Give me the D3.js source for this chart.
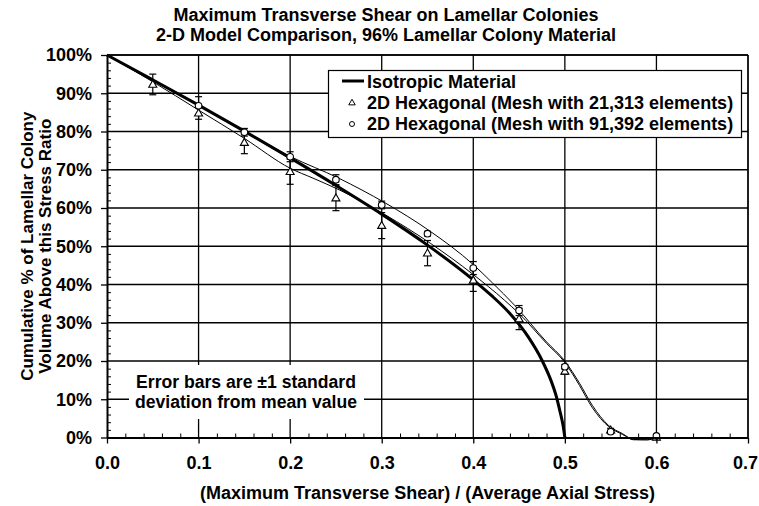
<!DOCTYPE html>
<html>
<head>
<meta charset="utf-8">
<script src="https://cdn.jsdelivr.net/npm/d3@7/dist/d3.min.js"></script>
<style>
  html, body { margin: 0; padding: 0; background: #fff; }
  svg { display: block; }
  text { font-family: "Liberation Sans", Arial, sans-serif; font-weight: bold; fill: #000; }
</style>
</head>
<body>
<svg id="chart" width="759" height="506"></svg>
<script>
// Isotropic material: cumulative % of colony volume above a given stress ratio
const isoX = [0, 0.05, 0.1, 0.15, 0.2, 0.25, 0.3, 0.35, 0.4, 0.42, 0.44, 0.46, 0.475, 0.485, 0.49, 0.495, 0.498, 0.5];
const isoY = [100, 93.5, 86.9, 80.1, 73.1, 65.9, 58.4, 50.3, 41.2, 37.1, 32.4, 26.3, 20.2, 14.8, 11.3, 6.5, 3.2, 0];

// Single-realisation curves for the two hexagonal meshes
const mesh21LineX = [0, 0.05, 0.1, 0.15, 0.2, 0.225, 0.254, 0.304, 0.353, 0.4, 0.434, 0.45, 0.48, 0.5, 0.516, 0.53, 0.548, 0.563, 0.575, 0.59, 0.6];
const mesh21LineY = [100, 93.0, 85.6, 78.2, 70.4, 67.8, 64.7, 58.2, 50.8, 42.6, 35.9, 32.4, 24.6, 19.6, 13.6, 7.8, 2.8, 0.8, -0.6, -0.6, 0];
const mesh91LineX = [0, 0.05, 0.1, 0.15, 0.2, 0.253, 0.304, 0.353, 0.4, 0.421, 0.445, 0.48, 0.5, 0.516, 0.53, 0.548, 0.563, 0.575, 0.59, 0.6];
const mesh91LineY = [100, 93.3, 86.8, 80.2, 73.5, 67.8, 61.3, 53.9, 45.2, 40.4, 34.6, 25.0, 20.0, 14.2, 8.4, 3.1, 1.0, -0.5, -0.6, 0];

// Mean values and standard deviations (error bars)
const mesh21X = [0.05, 0.1, 0.15, 0.2, 0.25, 0.3, 0.35, 0.4, 0.45, 0.5, 0.55, 0.6];
const mesh21Mean = [92.3, 84.8, 77.1, 69.5, 62.6, 55.4, 48.2, 41.1, 31.0, 17.3, 1.9, 0];
const mesh21Sd = [2.7, 1.6, 2.9, 3.3, 3.3, 3.4, 3.3, 2.9, 2.8, 0.8, 0.5, 0];
const mesh91X = [0.1, 0.15, 0.2, 0.25, 0.3, 0.35, 0.4, 0.45, 0.5, 0.55, 0.6];
const mesh91Mean = [86.7, 79.8, 73.4, 67.4, 60.8, 53.3, 44.3, 33.2, 18.5, 1.5, 0.4];
const mesh91Sd = [2.4, 1.0, 1.3, 1.3, 1.0, 0.6, 1.7, 1.3, 0.6, 0.3, 0];

// Axis ticks and text
const xTicks = [0, 0.1, 0.2, 0.3, 0.4, 0.5, 0.6, 0.7];
const yTicks = [0, 10, 20, 30, 40, 50, 60, 70, 80, 90, 100];
const titleLines = ["Maximum Transverse Shear on Lamellar Colonies", "2-D Model Comparison, 96% Lamellar Colony Material"];
const xTitle = "(Maximum Transverse Shear) / (Average Axial Stress)";
const yTitleLines = ["Cumulative % of Lamellar Colony", "Volume Above this Stress Ratio"];
const legendLabels = ["Isotropic Material", "2D Hexagonal (Mesh with 21,313 elements)", "2D Hexagonal (Mesh with 91,392 elements)"];
const noteLines = ["Error bars are \u00b11 standard", "deviation from mean value"];

const FS = 18;
const svg = d3.select("#chart");
svg.append("rect").attr("width", 759).attr("height", 506).attr("fill", "#fff");

const pLeft = 107, pRight = 748, pTop = 55, pBottom = 437.5;
const x = d3.scaleLinear().domain([0, 0.7]).range([pLeft, pRight]);
const y = d3.scaleLinear().domain([0, 100]).range([pBottom, pTop]);

// Title
svg.append("g").selectAll("text").data(titleLines).join("text")
  .attr("x", 386).attr("y", (d, i) => 21 + i * 20)
  .attr("text-anchor", "middle").attr("font-size", FS).text(d => d);

// Gridlines
const grid = svg.append("g").attr("stroke", "#000").attr("stroke-width", 1.3);
grid.selectAll("line.v").data(xTicks.slice(1)).join("line")
  .attr("x1", d => x(d)).attr("x2", d => x(d)).attr("y1", pTop).attr("y2", pBottom);
grid.selectAll("line.h").data(yTicks.slice(1)).join("line")
  .attr("x1", pLeft).attr("x2", pRight).attr("y1", d => y(d)).attr("y2", d => y(d));

// Note box (sits over the gridlines)
svg.append("rect").attr("x", 129).attr("y", 365).attr("width", 235).attr("height", 54).attr("fill", "#fff");
svg.append("g").selectAll("text").data(noteLines).join("text")
  .attr("x", 246).attr("y", (d, i) => 388 + i * 20)
  .attr("text-anchor", "middle").attr("font-size", 17.6).text(d => d);

// Data curves
const zip = (a, b) => a.map((v, i) => [v, b[i]]);
const smoothLine = d3.line().x(d => x(d[0])).y(d => y(d[1])).curve(d3.curveMonotoneX);
svg.append("path").datum(zip(mesh21LineX, mesh21LineY))
  .attr("d", smoothLine).attr("fill", "none").attr("stroke", "#000").attr("stroke-width", 1);
svg.append("path").datum(zip(mesh91LineX, mesh91LineY))
  .attr("d", smoothLine).attr("fill", "none").attr("stroke", "#000").attr("stroke-width", 1);
svg.append("path").datum(zip(isoX, isoY))
  .attr("d", smoothLine).attr("fill", "none").attr("stroke", "#000").attr("stroke-width", 3);

// Error bars
function errorBars(xs, means, sds) {
  const g = svg.append("g").attr("stroke", "#000").attr("stroke-width", 1.2);
  const data = xs.map((v, i) => ({ x: v, m: means[i], s: sds[i] })).filter(d => d.s > 0);
  g.selectAll("line.bar").data(data).join("line")
    .attr("x1", d => x(d.x)).attr("x2", d => x(d.x))
    .attr("y1", d => y(d.m + d.s)).attr("y2", d => y(d.m - d.s));
  g.selectAll("line.capT").data(data).join("line")
    .attr("x1", d => x(d.x) - 3.5).attr("x2", d => x(d.x) + 3.5)
    .attr("y1", d => y(d.m + d.s)).attr("y2", d => y(d.m + d.s));
  g.selectAll("line.capB").data(data).join("line")
    .attr("x1", d => x(d.x) - 3.5).attr("x2", d => x(d.x) + 3.5)
    .attr("y1", d => y(d.m - d.s)).attr("y2", d => y(d.m - d.s));
}
errorBars(mesh21X, mesh21Mean, mesh21Sd);
errorBars(mesh91X, mesh91Mean, mesh91Sd);

// Markers
const tri = d3.symbol().type(d3.symbolTriangle).size(28);
svg.append("g").selectAll("path").data(zip(mesh21X, mesh21Mean)).join("path")
  .attr("d", tri).attr("transform", d => `translate(${x(d[0])},${y(d[1]) + 0.5})`)
  .attr("fill", "#fff").attr("stroke", "#000").attr("stroke-width", 1.1);
svg.append("g").selectAll("circle").data(zip(mesh91X, mesh91Mean)).join("circle")
  .attr("cx", d => x(d[0])).attr("cy", d => y(d[1])).attr("r", 3.3)
  .attr("fill", "#fff").attr("stroke", "#000").attr("stroke-width", 1.1);

// Plot frame
svg.append("line").attr("x1", pLeft).attr("x2", pRight).attr("y1", pTop).attr("y2", pTop).attr("stroke", "#000").attr("stroke-width", 1.3);
svg.append("line").attr("x1", pRight).attr("x2", pRight).attr("y1", pTop).attr("y2", pBottom).attr("stroke", "#000").attr("stroke-width", 1.3);

// Axes: major ticks outside with labels, minor ticks inside
const xAxis = svg.append("g").attr("transform", `translate(0,${pBottom})`)
  .call(d3.axisBottom(x).tickValues(xTicks).tickFormat(d3.format(".1f")).tickSize(6).tickSizeOuter(0).tickPadding(13));
// keep the last label inside the canvas
xAxis.selectAll(".tick text").filter(d => d === 0.7).attr("dx", -3);
const xMinor = d3.range(0, 0.7001, 0.02).filter(v => Math.abs(v * 10 - Math.round(v * 10)) > 1e-6);
svg.append("g").attr("transform", `translate(0,${pBottom})`)
  .call(d3.axisBottom(x).tickValues(xMinor).tickFormat("").tickSize(-4).tickSizeOuter(0))
  .call(g => g.select(".domain").remove());
const yAxis = svg.append("g").attr("transform", `translate(${pLeft},0)`)
  .call(d3.axisLeft(y).tickValues(yTicks).tickFormat(d => d + "%").tickSize(6).tickSizeOuter(0).tickPadding(9));
const yMinor = d3.range(0, 100.001, 2).filter(v => v % 10 !== 0);
svg.append("g").attr("transform", `translate(${pLeft},0)`)
  .call(d3.axisLeft(y).tickValues(yMinor).tickFormat("").tickSize(-4).tickSizeOuter(0))
  .call(g => g.select(".domain").remove());
[xAxis, yAxis].forEach(g => {
  g.select(".domain").attr("stroke", "#000").attr("stroke-width", 2);
  g.selectAll(".tick line").attr("stroke-width", 1.3);
  g.selectAll("text").attr("font-size", FS).attr("font-family", null).attr("fill", "#000");
});
svg.selectAll(".tick line").attr("stroke", "#000");

// Axis titles
svg.append("text").attr("x", (pLeft + pRight) / 2).attr("y", 499)
  .attr("text-anchor", "middle").attr("font-size", FS).text(xTitle);
svg.append("g").selectAll("text").data(yTitleLines).join("text")
  .attr("transform", (d, i) => `translate(${33 + i * 18},${(pTop + pBottom) / 2}) rotate(-90)`)
  .attr("text-anchor", "middle").attr("font-size", 17).text(d => d);

// Legend
const lg = svg.append("g");
lg.append("rect").attr("x", 328.5).attr("y", 70.5).attr("width", 413).attr("height", 67)
  .attr("fill", "#fff").attr("stroke", "#000").attr("stroke-width", 1.2);
lg.append("line").attr("x1", 342).attr("x2", 364).attr("y1", 81).attr("y2", 81)
  .attr("stroke", "#000").attr("stroke-width", 3);
lg.append("path").attr("d", d3.symbol().type(d3.symbolTriangle).size(18))
  .attr("transform", "translate(352,103)").attr("fill", "#fff").attr("stroke", "#000").attr("stroke-width", 1);
lg.append("circle").attr("cx", 352).attr("cy", 124).attr("r", 2.5)
  .attr("fill", "#fff").attr("stroke", "#000").attr("stroke-width", 1);
lg.selectAll("text").data(legendLabels).join("text")
  .attr("x", 367).attr("y", (d, i) => 88 + i * 21)
  .attr("font-size", FS).text(d => d);
</script>
</body>
</html>
